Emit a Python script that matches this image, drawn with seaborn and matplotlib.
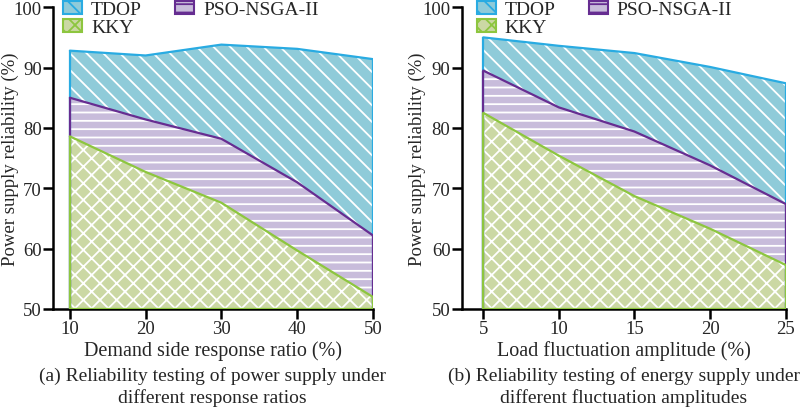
import numpy as np
import pandas as pd
import matplotlib
matplotlib.use("Agg")
import matplotlib.pyplot as plt
from matplotlib.patches import Patch
import seaborn as sns

sns.set_style("ticks")
plt.rcParams['font.family'] = ['Liberation Serif', 'DejaVu Serif']
plt.rcParams['hatch.linewidth'] = 1.3

# panel (a): demand side response ratio
ratio = [10, 20, 30, 40, 50]
tdop_a = [92.8, 92.0, 93.8, 93.1, 91.4]
pso_a = [85.0, 81.4, 78.2, 71.0, 62.2]
kky_a = [78.6, 72.7, 67.6, 59.7, 52.0]

# panel (b): load fluctuation amplitude
amp = [5, 10, 15, 20, 25]
tdop_b = [95.0, 93.6, 92.4, 90.1, 87.4]
pso_b = [89.5, 83.4, 79.4, 73.8, 67.4]
kky_b = [82.5, 75.4, 68.7, 63.3, 57.3]

labels = ['TDOP', 'PSO-NSGA-II', 'KKY']
edge_cols = ['#29abe2', '#662d91', '#8dc63f']
fill_cols = ['#8fcbd9', '#c8bcdb', '#cbd8a4']
hatches = ['\\\\', '--', 'xx']

FS = 13.5


def draw_panel(ax, x, series, xlim, xticks, xlabel, caption, leg_x, ylab_x):
    for y, lab, ec, fc, h in zip(series, labels, edge_cols, fill_cols, hatches):
        df = pd.DataFrame({'x': x, 'y': y})
        ax.fill_between(df['x'], 50, df['y'], facecolor=fc, edgecolor='white',
                        hatch=h, linewidth=0, zorder=1)
        sns.lineplot(data=df, x='x', y='y', ax=ax, color=ec, lw=1.6, zorder=3)
        ax.vlines([x[0], x[-1]], 50, [y[0], y[-1]], colors=ec, lw=1.6, zorder=3)
    ax.plot([x[0], x[-1]], [50, 50], color=edge_cols[2], lw=1.6, zorder=3)

    ax.set_xlim(*xlim)
    ax.set_ylim(50, 100)
    ax.set_xticks(xticks)
    ax.set_yticks(range(50, 101, 10))
    ax.tick_params(labelsize=FS, width=1.8, length=7, pad=1, color='black')
    for s in ['left', 'bottom']:
        ax.spines[s].set_linewidth(1.8)
        ax.spines[s].set_color('black')
    sns.despine(ax=ax)
    ax.set_xlabel(xlabel, fontsize=14.5, labelpad=2)
    ax.set_ylabel('Power supply reliability (%)', fontsize=13.5)
    ax.yaxis.set_label_coords(ylab_x, 0.5)
    ax.text(0.5, -0.19, caption, transform=ax.transAxes, ha='center', va='top',
            fontsize=14, linespacing=1.3)

    handles = [Patch(facecolor=fill_cols[i], edgecolor=edge_cols[i], hatch=hatches[i],
                     linewidth=1.5, label=labels[i]) for i in [0, 2, 1]]
    ax.legend(handles=handles, ncol=2, frameon=False, fontsize=14,
              loc='upper left', bbox_to_anchor=(leg_x, 1.02),
              handlelength=1.0, handleheight=0.6, handletextpad=0.45,
              columnspacing=1.7, labelspacing=0.05, borderpad=0, borderaxespad=0)


fig = plt.figure(figsize=(8, 4.1), dpi=100)
ax1 = fig.add_axes([0.066, 0.244, 0.400, 0.736])
ax2 = fig.add_axes([0.577, 0.244, 0.405, 0.736])

draw_panel(ax1, ratio, [tdop_a, pso_a, kky_a], (7.75, 50), ratio,
           'Demand side response ratio (%)',
           '(a) Reliability testing of power supply under\ndifferent response ratios',
           0.031, -0.107)
draw_panel(ax2, amp, [tdop_b, pso_b, kky_b], (3.57, 25), amp,
           'Load fluctuation amplitude (%)',
           '(b) Reliability testing of energy supply under\ndifferent fluctuation amplitudes',
           0.046, -0.11)

fig.savefig('out.png', dpi=100)
